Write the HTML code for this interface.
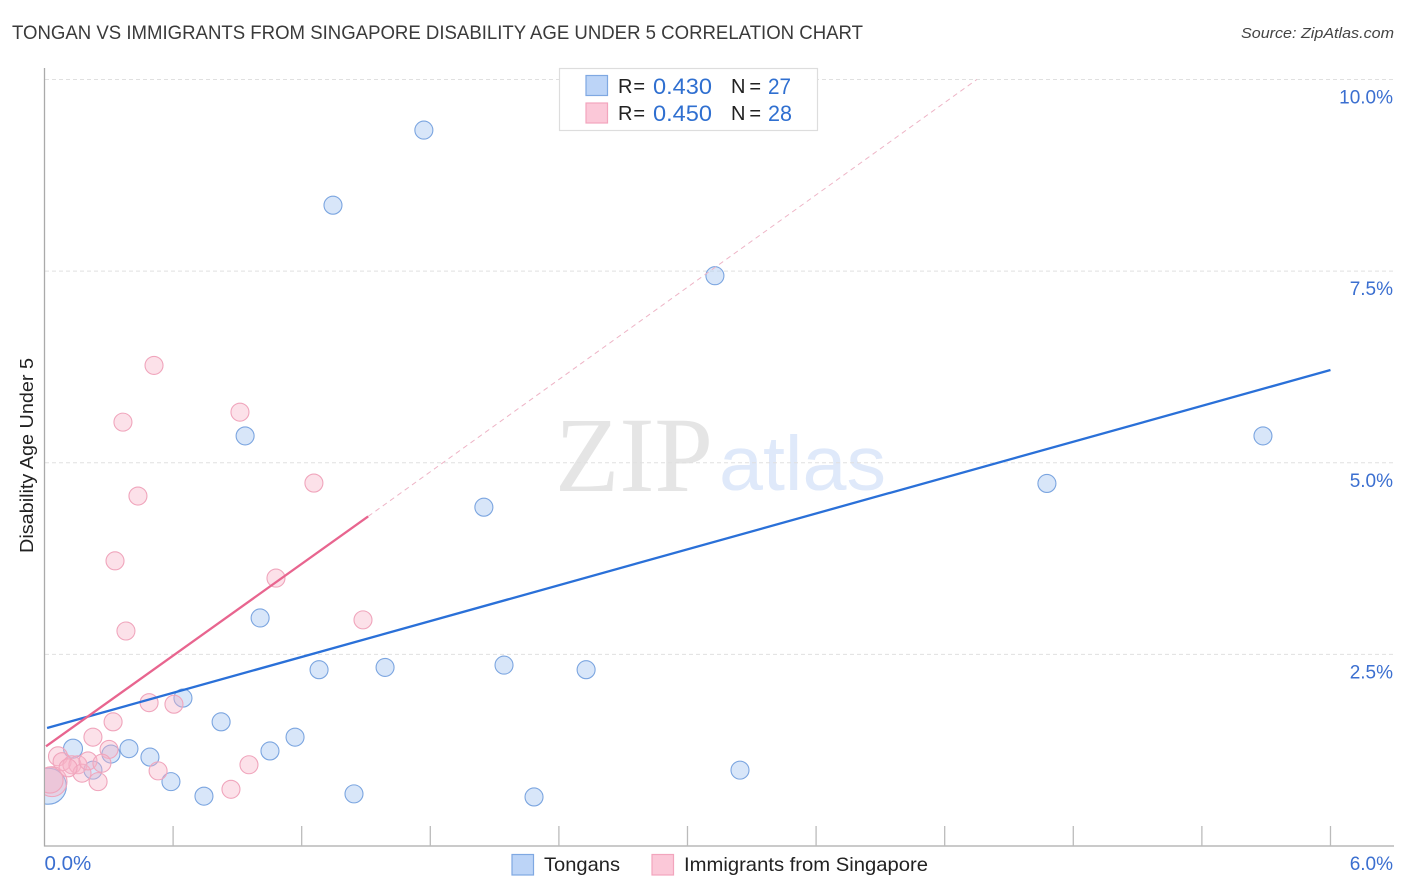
<!DOCTYPE html>
<html lang="en">
<head>
<meta charset="utf-8">
<title>Tongan vs Immigrants from Singapore Disability Age Under 5 Correlation Chart</title>
<style>
html,body{margin:0;padding:0;background:#fff;width:1406px;height:892px;overflow:hidden}
svg{display:block;font-family:"Liberation Sans",sans-serif}
</style>
</head>
<body>
<svg id="chart" xmlns="http://www.w3.org/2000/svg" width="1406" height="892" viewBox="0 0 1406 892">
<defs><clipPath id="plot-clip"><rect x="45" y="60" width="1350" height="786"/></clipPath></defs>
<text x="12" y="39" font-size="19" fill="#3a3a3a" textLength="851" lengthAdjust="spacingAndGlyphs">TONGAN VS IMMIGRANTS FROM SINGAPORE DISABILITY AGE UNDER 5 CORRELATION CHART</text>
<text x="1241" y="38" font-size="15" font-style="italic" fill="#444" textLength="153" lengthAdjust="spacingAndGlyphs">Source: ZipAtlas.com</text>
<g>
<text x="555" y="491" font-family="'Liberation Serif',serif" font-size="107" fill="#e5e5e5" textLength="158" lengthAdjust="spacingAndGlyphs">ZIP</text>
<text x="719" y="490" font-size="77" fill="#dfe9fa" textLength="167" lengthAdjust="spacingAndGlyphs">atlas</text>
</g>
<g id="grid"></g>
<g id="axes"></g>
<g id="marks" clip-path="url(#plot-clip)"></g>
<g id="lines"></g>
<text transform="translate(33,455.5) rotate(-90)" font-size="18" fill="#222" text-anchor="middle" textLength="195" lengthAdjust="spacingAndGlyphs">Disability Age Under 5</text>
<g>
<rect x="559.5" y="68.5" width="258" height="62" fill="#fff" stroke="#ddd" stroke-width="1.2"/>
<rect x="586" y="75.5" width="21.5" height="20" fill="#bcd4f7" stroke="#7fa8e2" stroke-width="1.2"/>
<rect x="586" y="103" width="21.5" height="20" fill="#fbc8d8" stroke="#f2a5bd" stroke-width="1.2"/>
<g font-size="20">
<text x="618" y="93" fill="#222" textLength="27" lengthAdjust="spacing">R =</text>
<text x="653" y="94" fill="#2f6fd0" font-size="22" textLength="59" lengthAdjust="spacingAndGlyphs">0.430</text>
<text x="731" y="93" fill="#222" textLength="30" lengthAdjust="spacing">N =</text>
<text x="768" y="94" fill="#2f6fd0" font-size="22" textLength="23" lengthAdjust="spacingAndGlyphs">27</text>
<text x="618" y="120" fill="#222" textLength="27" lengthAdjust="spacing">R =</text>
<text x="653" y="121" fill="#2f6fd0" font-size="22" textLength="59" lengthAdjust="spacingAndGlyphs">0.450</text>
<text x="731" y="120" fill="#222" textLength="30" lengthAdjust="spacing">N =</text>
<text x="768" y="121" fill="#2f6fd0" font-size="22" textLength="24" lengthAdjust="spacingAndGlyphs">28</text>
</g>
</g>
<g>
<rect x="512" y="854.5" width="21.5" height="20.5" fill="#bcd4f7" stroke="#7fa8e2" stroke-width="1.2"/>
<text x="544" y="871" font-size="19.5" fill="#222" textLength="76" lengthAdjust="spacingAndGlyphs">Tongans</text>
<rect x="652" y="854.5" width="21.5" height="20.5" fill="#fbc8d8" stroke="#f2a5bd" stroke-width="1.2"/>
<text x="684" y="871" font-size="19.5" fill="#222" textLength="244" lengthAdjust="spacingAndGlyphs">Immigrants from Singapore</text>
</g>
</svg>
<script>
// Chart data (percent values)
const yTickValues = [2.5, 5, 7.5, 10];
const yTickLabels = ["2.5%", "5.0%", "7.5%", "10.0%"];
const xTickValues = [0.6, 1.2, 1.8, 2.4, 3.0, 3.6, 4.2, 4.8, 5.4, 6.0];
const xEndValues = [0, 6];
const xEndLabels = ["0.0%", "6.0%"];

const tonganX = [1.77, 1.346, 3.128, 0.936, 5.685, 4.677, 2.05, 1.006, 1.281, 1.589, 2.144, 2.527, 0.646, 0.824, 1.169, 1.052, 0.394, 0.492, 0.133, 0.31, 0.226, 0.59, 0.744, 1.444, 2.284, 3.245, 0.018];
const tonganY = [9.34, 8.36, 7.44, 5.35, 5.35, 4.73, 4.42, 2.975, 2.3, 2.33, 2.36, 2.3, 1.93, 1.62, 1.42, 1.24, 1.27, 1.16, 1.27, 1.2, 0.99, 0.84, 0.65, 0.68, 0.64, 0.99, 0.78];
const tonganSize = [9, 9, 9, 9, 9, 9, 9, 9, 9, 9, 9, 9, 9, 9, 9, 9, 9, 9, 9.5, 9, 9, 9, 9, 9, 9, 9, 18];

const singaporeX = [0.511, 0.912, 0.366, 0.436, 1.257, 0.329, 1.08, 1.486, 0.38, 0.488, 0.604, 0.32, 0.226, 0.301, 0.063, 0.082, 0.128, 0.156, 0.175, 0.203, 0.268, 0.25, 0.53, 0.954, 0.87, 0.035, 0.026, 0.11];
const singaporeY = [6.27, 5.66, 5.53, 4.566, 4.735, 3.72, 3.495, 2.95, 2.805, 1.87, 1.85, 1.62, 1.42, 1.26, 1.17, 1.1, 1.06, 1.06, 0.95, 1.11, 1.08, 0.84, 0.98, 1.06, 0.74, 0.84, 0.86, 1.02];
const singaporeSize = [9, 9, 9, 9, 9, 9, 9, 9, 9, 9, 9, 9, 9, 9, 9.5, 9, 9, 9, 9, 9, 9, 9, 9, 9, 9, 15, 13, 9];

const tonganTrendX = [0.012, 6.0];
const tonganTrendY = [1.54, 6.21];
const singaporeTrendX = [0.007, 1.51];
const singaporeTrendY = [1.30, 4.30];
const singaporeDashX = [1.51, 4.35];
const singaporeDashY = [4.30, 10.0];

// Axis functions
const xScale = v => 44.5 + v * 214.33;
const yScale = v => 846 - v * 76.65;
const NS = "http://www.w3.org/2000/svg";
function make(tag, parent, attrs) {
  const el = document.createElementNS(NS, tag);
  for (const k in attrs) el.setAttribute(k, attrs[k]);
  parent.appendChild(el);
  return el;
}
const grid = document.getElementById("grid");
const axes = document.getElementById("axes");
const marks = document.getElementById("marks");
const lines = document.getElementById("lines");

yTickValues.forEach((v, i) => {
  const l = make("line", grid, {x1: 45, x2: 1394, y1: yScale(v), y2: yScale(v), stroke: "#e0e0e0", "stroke-width": 1, "stroke-dasharray": "4 3"});
  
  
  const t = make("text", axes, {x: 1393, y: yScale(v) + 24, "text-anchor": "end", "font-size": 19, fill: "#3b6fd0"});
  t.textContent = yTickLabels[i];
  
  
});

const yAxis = make("line", axes, {x1: 44.5, x2: 44.5, y1: 68, y2: 846.5, stroke: "#aaa", "stroke-width": 1.3});


const xAxis = make("line", axes, {x1: 44, x2: 1394, y1: 846, y2: 846, stroke: "#aaa", "stroke-width": 1.3});



xTickValues.forEach(v => {
  const l = make("line", axes, {x1: xScale(v), x2: xScale(v), y1: 826, y2: 846, stroke: "#bbb", "stroke-width": 1.3});
  
  
});
xEndValues.forEach((v, i) => {
  const t = make("text", axes, {x: i === 0 ? xScale(v) : 1393, y: 870, "text-anchor": i === 0 ? "start" : "end", "font-size": i === 0 ? 20.5 : 19, fill: "#3b6fd0"});
  t.textContent = xEndLabels[i];
  
  
});

tonganX.forEach((v, i) => {
  const c = make("circle", marks, {cx: xScale(v), cy: yScale(tonganY[i]), r: tonganSize[i], fill: "#a9c8f2", "fill-opacity": 0.45, stroke: "#7ba5e0", "stroke-width": 1.1});
  
  
});
singaporeX.forEach((v, i) => {
  const c = make("circle", marks, {cx: xScale(v), cy: yScale(singaporeY[i]), r: singaporeSize[i], fill: "#f8b4c9", "fill-opacity": 0.4, stroke: "#f0a5bc", "stroke-width": 1.1});
  
  
});

const dash = make("line", lines, {x1: xScale(singaporeDashX[0]), y1: yScale(singaporeDashY[0]), x2: xScale(singaporeDashX[1]), y2: yScale(singaporeDashY[1]), stroke: "#eeb4c6", "stroke-width": 1, "stroke-dasharray": "5 4"});


const blue = make("line", lines, {x1: xScale(tonganTrendX[0]), y1: yScale(tonganTrendY[0]), x2: xScale(tonganTrendX[1]), y2: yScale(tonganTrendY[1]), stroke: "#2a70d8", "stroke-width": 2.3});


const pink = make("line", lines, {x1: xScale(singaporeTrendX[0]), y1: yScale(singaporeTrendY[0]), x2: xScale(singaporeTrendX[1]), y2: yScale(singaporeTrendY[1]), stroke: "#e8658f", "stroke-width": 2.3});


</script>
</body>
</html>
